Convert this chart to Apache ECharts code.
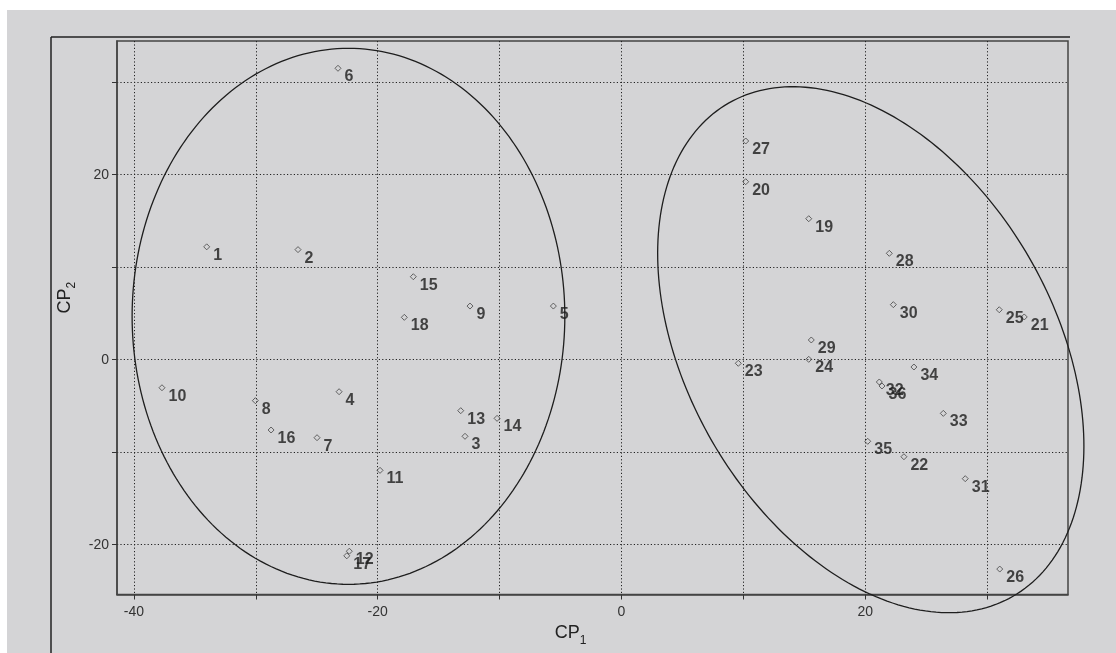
<!DOCTYPE html>
<html><head><meta charset="utf-8">
<script src="https://cdn.jsdelivr.net/npm/echarts@6/dist/echarts.min.js"></script>
<style>html,body{margin:0;padding:0;background:#fff}#c{width:1116px;height:653px}</style>
</head><body><div id="c"></div>
<script>
// ---- data ----
const pointIds = ['1','2','3','4','5','6','7','8','9','10','11','12','13','14','15','16','17','18',
  '19','20','21','22','23','24','25','26','27','28','29','30','31','32','33','34','35','36'];
const pointX = [-34.03,-26.54,-12.84,-23.17,-5.59,-23.26,-24.98,-30.04,-12.43,-37.70,-19.81,-22.33,-13.19,-10.21,-17.08,-28.75,-22.54,-17.82,
  15.36,10.19,33.04,23.17,9.58,15.36,30.99,31.03,10.19,21.97,15.57,22.30,28.20,21.15,26.40,23.99,20.20,21.37];
const pointY = [12.2,11.9,-8.28,-3.46,5.8,31.5,-8.43,-4.43,5.8,-3.03,-11.96,-20.7,-5.51,-6.34,8.97,-7.6,-21.2,4.58,
  15.24,19.24,4.62,-10.49,-0.39,0.04,5.4,-22.63,23.64,11.5,2.13,5.95,-12.86,-2.41,-5.8,-0.79,-8.82,-2.84];
const xTicks = [-40,-30,-20,-10,0,10,20,30];
const xLabels = [-40,-20,0,20];
const yTicks = [-20,-10,0,10,20,30];
const yLabels = [-20,0,20];
// group ellipses: centre and two conjugate semi-axis vectors (data units)
const ellipseCenterX = [-22.4, 20.45];
const ellipseCenterY = [4.69, 1.08];
const ellipseAxisA = [[17.75, 0], [11.67, -26.65]];
const ellipseAxisB = [[0, 28.97], [-13.02, -9.90]];

const GRAY = '#d4d4d6';
const chart = echarts.init(document.getElementById('c'), null, {renderer: 'canvas'});
const FONT = '"Liberation Sans", Arial, sans-serif';

chart.setOption({
  animation: false,
  backgroundColor: '#ffffff',
  graphic: [
    {type: 'rect', z: -100, shape: {x: 7, y: 10, width: 1109, height: 643}, style: {fill: GRAY}},
    {type: 'line', z: 100, shape: {x1: 51, y1: 37, x2: 1070, y2: 37}, style: {stroke: '#222', lineWidth: 1.5}},
    {type: 'line', z: 100, shape: {x1: 51, y1: 37, x2: 51, y2: 653}, style: {stroke: '#222', lineWidth: 1.5}}
  ],
  grid: {left: 117, right: 48, top: 41, bottom: 58.5, show: true, borderColor: '#444', borderWidth: 1.5, backgroundColor: 'transparent'},
  xAxis: {
    type: 'value', min: -41.39, max: 36.63,
    axisLine: {show: true, onZero: false, lineStyle: {color: '#444', width: 1.5}},
    axisTick: {show: true, length: 5, customValues: xTicks, lineStyle: {color: '#333'}},
    axisLabel: {customValues: xLabels, margin: 11, fontSize: 14, color: '#333', fontFamily: FONT},
    splitLine: {show: true, lineStyle: {color: '#222', type: [1.2, 2.2], width: 1}},
    name: '{m|CP}{s|1}', nameLocation: 'middle', nameGap: 22,
    nameTextStyle: {padding: [0, 44, 0, 0], rich: {
      m: {fontSize: 18, color: '#222', fontFamily: FONT, lineHeight: 22, verticalAlign: 'top'},
      s: {fontSize: 12, color: '#222', fontFamily: FONT, lineHeight: 22, padding: [10, 0, 0, 0], verticalAlign: 'top'}}}
  },
  yAxis: {
    type: 'value', min: -25.38, max: 34.45,
    axisLine: {show: true, onZero: false, lineStyle: {color: '#444', width: 1.5}},
    axisTick: {show: true, length: 5, customValues: yTicks, lineStyle: {color: '#333'}},
    axisLabel: {customValues: yLabels, margin: 8, fontSize: 14, color: '#333', fontFamily: FONT},
    splitLine: {show: true, lineStyle: {color: '#222', type: [1.2, 2.2], width: 1}},
    name: '{m|CP}{s|2}', nameLocation: 'middle', nameGap: 27,
    nameTextStyle: {padding: [0, 0, 0, 40], rich: {
      m: {fontSize: 18, color: '#222', fontFamily: FONT, lineHeight: 22, verticalAlign: 'top'},
      s: {fontSize: 12, color: '#222', fontFamily: FONT, lineHeight: 22, padding: [10, 0, 0, 0], verticalAlign: 'top'}}}
  },
  series: [
    {
      type: 'custom', clip: false, silent: true, z: 3,
      data: ellipseCenterX.map((cx, i) => [cx, ellipseCenterY[i], ellipseAxisA[i][0], ellipseAxisA[i][1], ellipseAxisB[i][0], ellipseAxisB[i][1]]),
      encode: {x: 0, y: 1},
      renderItem(params, api) {
        const cx = api.value(0), cy = api.value(1), ax = api.value(2), ay = api.value(3), bx = api.value(4), by = api.value(5);
        const pts = [];
        for (let k = 0; k <= 240; k++) {
          const t = k / 240 * 2 * Math.PI;
          pts.push(api.coord([cx + ax * Math.cos(t) + bx * Math.sin(t), cy + ay * Math.cos(t) + by * Math.sin(t)]));
        }
        return {type: 'polyline', shape: {points: pts}, style: {stroke: '#1e1e1e', lineWidth: 1.3, fill: null}};
      }
    },
    {
      type: 'scatter', z: 4,
      data: pointX.map((x, i) => [x, pointY[i], pointIds[i]]),
      symbol: 'diamond', symbolSize: 6,
      itemStyle: {color: 'rgba(0,0,0,0)', borderColor: '#444', borderWidth: 1},
      label: {show: true, position: [10, 12], align: 'left', verticalAlign: 'middle',
        formatter: p => p.data[2], fontSize: 16, fontWeight: 'bold', color: '#1c1c1c', fontFamily: FONT},
      labelLayout: {hideOverlap: false}
    }
  ]
});
</script></body></html>
